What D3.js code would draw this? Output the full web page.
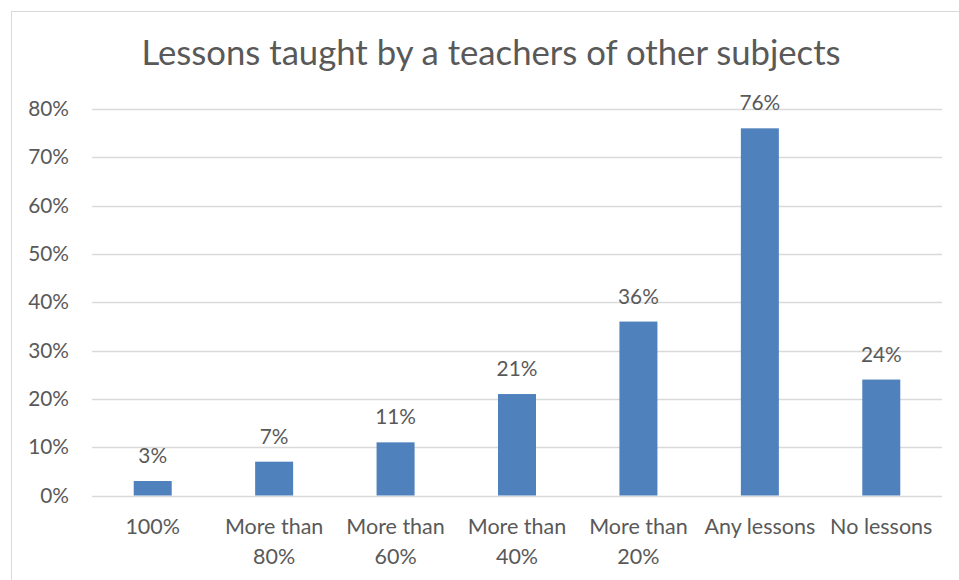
<!DOCTYPE html>
<html>
<head>
<meta charset="utf-8">
<script src="https://cdn.jsdelivr.net/npm/d3@7"></script>
<style>
  html, body { margin: 0; padding: 0; background: #fff; }
  svg { display: block; }
  text { font-family: Lato, "Open Sans", sans-serif; fill: #595959; }
</style>
</head>
<body>
<svg id="chart" width="959" height="580"></svg>
<script>
// Chart content
const title = "Lessons taught by a teachers of other subjects";
const categories = [["100%"], ["More than", "80%"], ["More than", "60%"], ["More than", "40%"], ["More than", "20%"], ["Any lessons"], ["No lessons"]];
const values = [3, 7, 11, 21, 36, 76, 24];
const yTicks = [0, 10, 20, 30, 40, 50, 60, 70, 80];

const svg = d3.select("#chart");
const W = 959, H = 580;
const plot = { left: 92, right: 942, top: 109, bottom: 495.5 };

// Outer chart frame
svg.append("rect")
  .attr("x", 11.5).attr("y", 11.5)
  .attr("width", W).attr("height", H)
  .attr("fill", "#fff").attr("stroke", "#D9D9D9").attr("stroke-width", 1);

// Title
svg.append("text")
  .attr("x", 491).attr("y", 65)
  .attr("text-anchor", "middle")
  .style("font-size", "34.7px")
  .text(title);

const x = d3.scaleBand()
  .domain(d3.range(categories.length))
  .range([plot.left, plot.right])
  .paddingInner(0.687)
  .paddingOuter(0.3435);

const y = d3.scaleLinear().domain([0, 80]).range([plot.bottom, plot.top]);

// Horizontal gridlines
svg.append("g")
  .selectAll("line")
  .data(yTicks)
  .join("line")
  .attr("x1", plot.left).attr("x2", plot.right)
  .attr("y1", d => Math.round(y(d)) + 0.5).attr("y2", d => Math.round(y(d)) + 0.5)
  .attr("stroke", "#D9D9D9").attr("stroke-width", 1.3);

// Y axis labels
const yAxis = d3.axisLeft(y).tickValues(yTicks).tickFormat(d => d + "%").tickSize(0).tickPadding(23);
const yg = svg.append("g").attr("transform", `translate(${plot.left},0)`).call(yAxis);
yg.select(".domain").remove();
yg.selectAll("text").style("font-size", "20.8px").attr("fill", "#595959").style("font-family", "Lato, sans-serif");

// Bars
svg.append("g")
  .selectAll("rect")
  .data(values)
  .join("rect")
  .attr("x", (d, i) => x(i))
  .attr("y", d => y(d))
  .attr("width", x.bandwidth())
  .attr("height", d => y(0) - y(d))
  .attr("fill", "#4F81BD");

// Value labels
svg.append("g")
  .selectAll("text")
  .data(values)
  .join("text")
  .attr("x", (d, i) => x(i) + x.bandwidth() / 2)
  .attr("y", d => y(d) - 18)
  .attr("text-anchor", "middle")
  .style("font-size", "20.8px")
  .text(d => d + "%");

// Category labels (wrapped to two lines where needed)
const cat = svg.append("g")
  .selectAll("text")
  .data(categories)
  .join("text")
  .attr("x", (d, i) => x(i) + x.bandwidth() / 2)
  .attr("y", 534)
  .attr("text-anchor", "middle")
  .style("font-size", "21.5px");
cat.each(function(lines) {
  const t = d3.select(this);
  const cx = t.attr("x");
  lines.forEach((s, k) => {
    t.append("tspan").attr("x", cx).attr("dy", k === 0 ? 0 : 29.5).text(s);
  });
});
</script>
</body>
</html>
